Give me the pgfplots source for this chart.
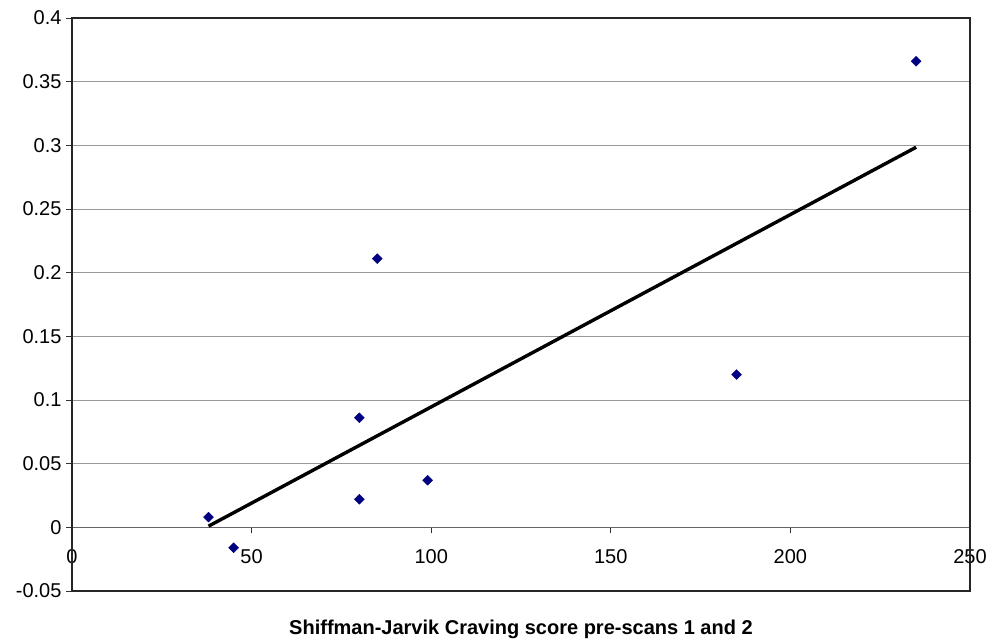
\documentclass[border=0pt]{standalone}
\usepackage{fontspec}
\setmainfont{Liberation Sans}
\usepackage{pgfplots}
\pgfplotsset{compat=1.18}
\definecolor{navymark}{RGB}{0,0,128}
\begin{document}
\begin{tikzpicture}
\begin{axis}[
  name=ax,
  scale only axis,
  width=898bp, height=573bp,
  xmin=0, xmax=250, ymin=-0.05, ymax=0.4,
  axis x line=middle, axis y line=left,
  axis line style={-},
  x axis line style={draw=gray!80!black, line width=0.8bp},
  y axis line style={draw=black!85, line width=1.2bp},
  hide obscured x ticks=false,
  hide obscured y ticks=false,
  xtick={0,50,100,150,200,250},
  ytick={-0.05,0,0.05,0.1,0.15,0.2,0.25,0.3,0.35,0.4},
  tick align=outside,
  major tick length=6bp,
  tick style={draw=black!80, line width=0.8bp},
  ymajorgrids,
  grid style={draw=gray!80, line width=0.8bp},
  /pgf/number format/assume math mode=true,
  /pgf/number format/fixed,
  /pgf/number format/precision=2,
  ticklabel style={font=\fontsize{20bp}{23bp}\selectfont},
  yticklabel style={xshift=-1bp},
  xticklabel style={yshift=-13bp},
  xlabel={Shiffman-Jarvik Craving score pre-scans 1 and 2},
  xlabel style={at={(rel axis cs:0.5,0)}, anchor=base, yshift=-43bp,
    font=\fontsize{20bp}{23bp}\selectfont\bfseries},
  clip=false,
]
\draw[black!85, line width=1.2bp] (rel axis cs:0,0) rectangle (rel axis cs:1,1);
\addplot[black, line width=3.4bp] coordinates {(38,0.0009) (235,0.2985)};
\addplot[only marks, mark=square*, mark size=3.5bp, mark options={rotate=45, fill=navymark, draw=navymark}]
  coordinates {
  (38,0.008) (45,-0.016) (80,0.086) (80,0.022) (85,0.211) (99,0.037) (185,0.120) (235,0.366)
  };
\end{axis}
\pgfresetboundingbox
\path[use as bounding box] ([xshift=-72bp,yshift=-51bp]ax.south west) rectangle ([xshift=25bp,yshift=18bp]ax.north east);
\end{tikzpicture}
\end{document}
